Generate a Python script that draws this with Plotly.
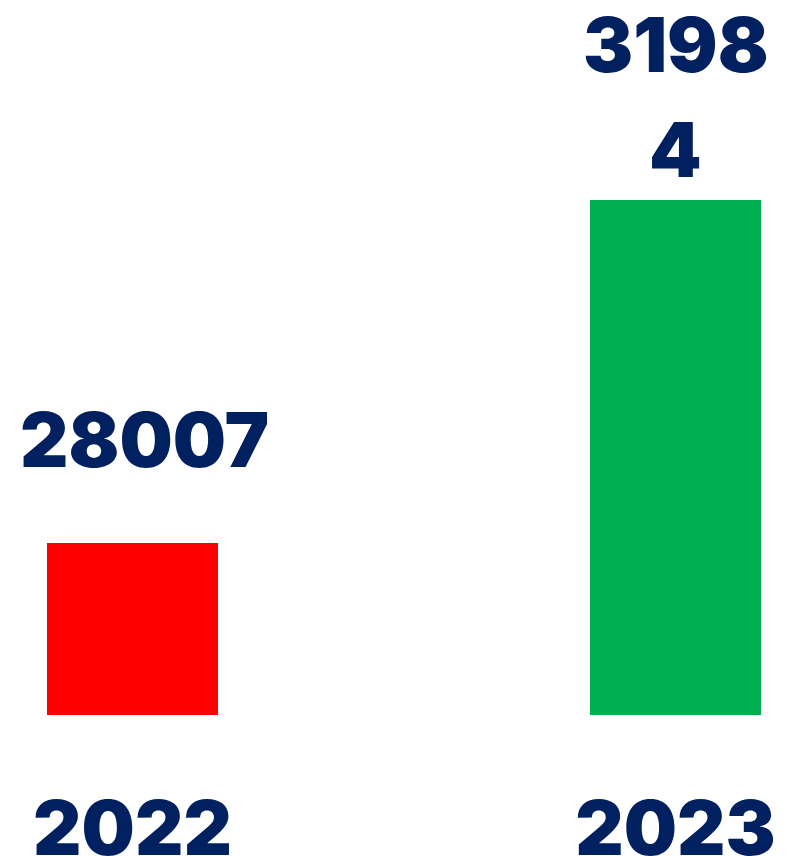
import plotly.graph_objects as go

years = ["2022", "2023"]
values = [28007, 31984]
bar_colors = ["#FF0000", "#00B050"]
value_labels = ["28007", "3198<br>4"]
label_xshift = [12, 0]

NAVY = "#002060"
FONT = "Inter, Liberation Sans, Arial, sans-serif"
FSIZE = 75
LINE_GAP = 105
BASE_SHIFT = 103

fig = go.Figure()
fig.add_trace(go.Bar(
    x=years, y=values, width=0.315,
    marker=dict(color=bar_colors, line=dict(width=0)),
    hoverinfo="skip", showlegend=False,
))

for i, (v, lab, xs) in enumerate(zip(values, value_labels, label_xshift)):
    lines = lab.split("<br>")
    n = len(lines)
    for k, line in enumerate(lines):
        fig.add_annotation(
            x=i, y=v, text=line, showarrow=False,
            yanchor="middle", xanchor="center",
            xshift=xs, yshift=BASE_SHIFT + ((n - 1) / 2 - k) * LINE_GAP,
            font=dict(family=FONT, size=FSIZE, color=NAVY, weight=900),
        )

fig.update_layout(
    width=790, height=856,
    margin=dict(l=0, r=0, t=0, b=149),
    paper_bgcolor="white", plot_bgcolor="white",
    xaxis=dict(
        type="category", range=[-0.2293, 1.2256], automargin=False,
        showgrid=False, showline=False, zeroline=False, ticks="",
        tickfont=dict(family=FONT, size=FSIZE, color=NAVY, weight=900),
        ticklabelstandoff=64,
    ),
    yaxis=dict(
        range=[26012, 34210], visible=False, showgrid=False, zeroline=False,
        automargin=False,
    ),
)

fig.write_html("out.html")
